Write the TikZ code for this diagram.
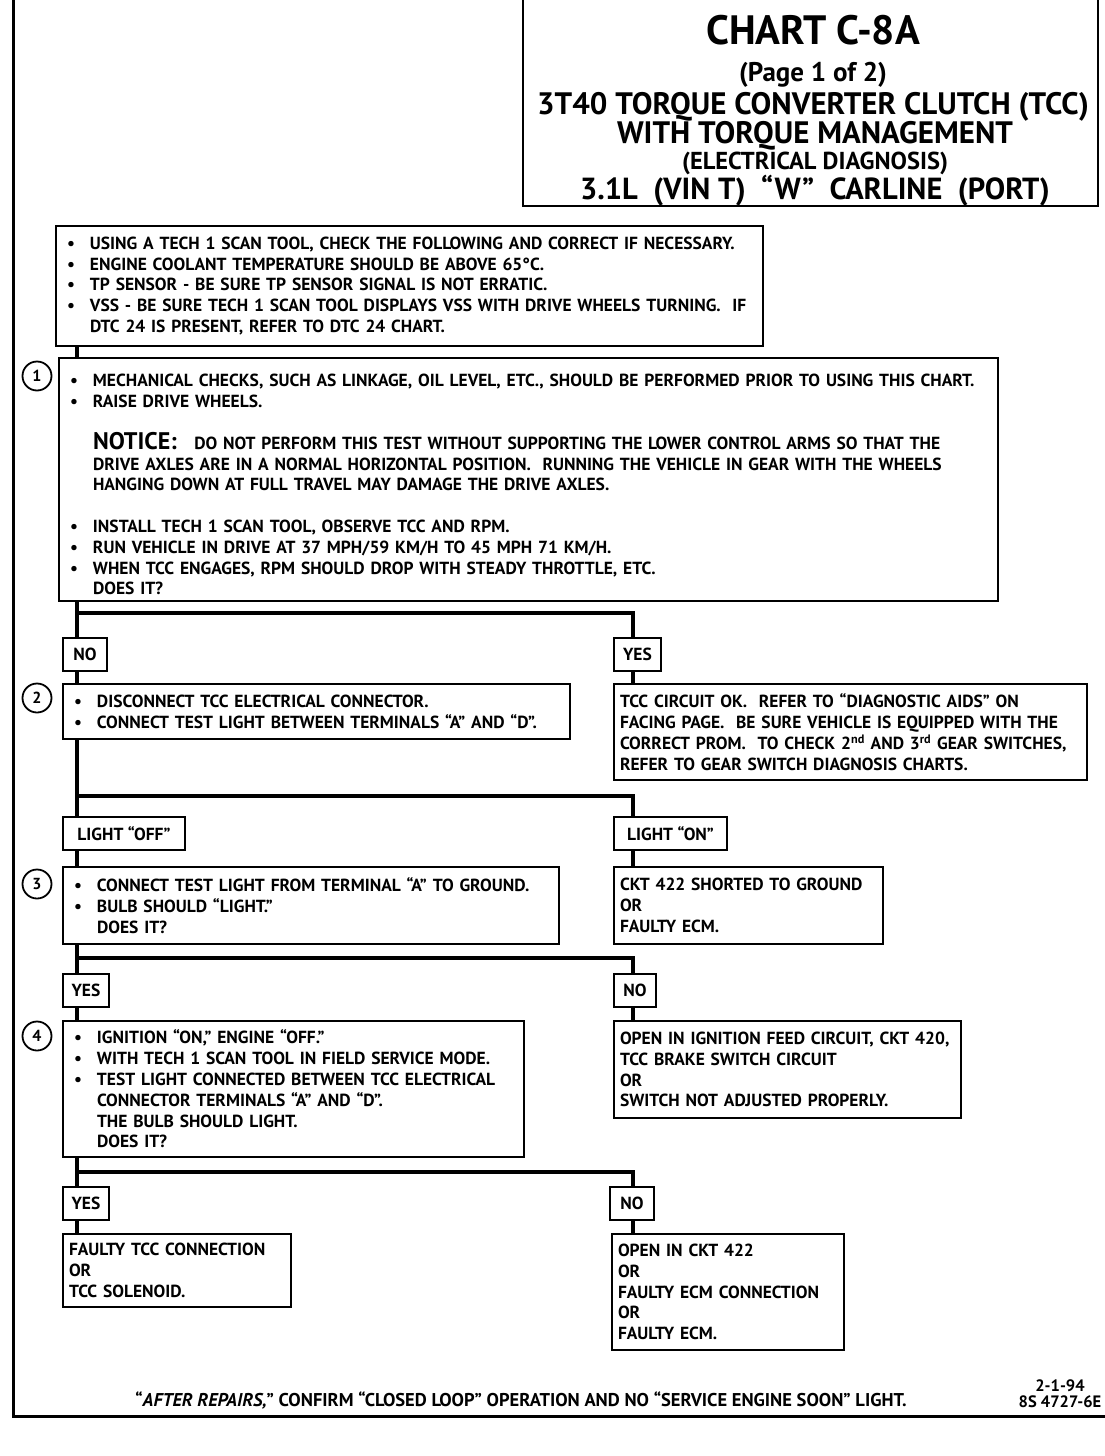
\documentclass[tikz,border=0pt]{standalone}
\usepackage{fontspec}
\setmainfont{PT Sans}
\usetikzlibrary{positioning}

\newcommand{\bul}{\makebox[23pt][l]{\textbullet}}
\newcommand{\ind}{\hspace*{23pt}}

\begin{document}
\begin{tikzpicture}[x=1pt, y=-1pt,
    txt/.style={font=\fontsize{17.5}{20.8}\selectfont\bfseries},
    head/.style={anchor=base, inner sep=0pt, font=\fontsize{#1}{#1}\selectfont\bfseries},
    qbox/.style={draw, line width=2pt, anchor=north west, align=left, inner xsep=11pt, inner ysep=0pt, txt},
    rbox/.style={draw, line width=2pt, anchor=north west, align=left, inner xsep=6pt, inner ysep=0pt, txt},
    tag/.style={draw, line width=2pt, anchor=north west, minimum height=33pt, inner sep=0pt, txt},
    num/.style={circle, draw, line width=1.8pt, minimum size=29pt, inner sep=0pt, font=\fontsize{16}{16}\selectfont\bfseries},
    flow/.style={line width=4pt}]
  \useasboundingbox (0,0) rectangle (1104,1456);
  % frame and title block
  \draw[line width=3pt] (13,-5) -- (13,1416) -- (1110,1416);
  \node[draw, line width=2pt, anchor=north west, minimum width=575pt, minimum height=215pt] (titlebox) at (522,-10) {};
  \node[head=41] (t1) at (813,44) {CHART C-8A};
  \node[head=27] (t2) at (813,81) {(Page 1 of 2)};
  \node[head=31] (t3) at (813,114) {3T40 TORQUE CONVERTER CLUTCH (TCC)};
  \node[head=31] (t4) at (815,143) {WITH TORQUE MANAGEMENT};
  \node[head=24.5] (t5) at (815,169) {(ELECTRICAL DIAGNOSIS)};
  \node[head=30.5] (t6) at (815,199) {3.1L\ \ (VIN T)\ \ “W”\ \ CARLINE\ \ (PORT)};

  \coordinate (trunk) at (77,0);
  \coordinate (branch) at (633,0);

  % questions
  \node[qbox, text width=685pt, minimum height=120pt] (pre) at (55,225) {%
    \bul USING A TECH 1 SCAN TOOL, CHECK THE FOLLOWING AND CORRECT IF NECESSARY.\\
    \bul ENGINE COOLANT TEMPERATURE SHOULD BE ABOVE 65°C.\\
    \bul TP SENSOR - BE SURE TP SENSOR SIGNAL IS NOT ERRATIC.\\
    \bul VSS - BE SURE TECH 1 SCAN TOOL DISPLAYS VSS WITH DRIVE WHEELS TURNING.\ \ IF\\
    \ind DTC 24 IS PRESENT, REFER TO DTC 24 CHART.};
  \node[qbox, text width=917pt, minimum height=243pt] (q1) at (58,357) {%
    \rule{0pt}{23pt}\bul MECHANICAL CHECKS, SUCH AS LINKAGE, OIL LEVEL, ETC., SHOULD BE PERFORMED PRIOR TO USING THIS CHART.\\
    \bul RAISE DRIVE WHEELS.\\[21pt]
    \ind{\fontsize{24}{20}\selectfont NOTICE:}\ \ \ DO NOT PERFORM THIS TEST WITHOUT SUPPORTING THE LOWER CONTROL ARMS SO THAT THE\\
    \ind DRIVE AXLES ARE IN A NORMAL HORIZONTAL POSITION.\ \ RUNNING THE VEHICLE IN GEAR WITH THE WHEELS\\
    \ind HANGING DOWN AT FULL TRAVEL MAY DAMAGE THE DRIVE AXLES.\\[20.8pt]
    \bul INSTALL TECH 1 SCAN TOOL, OBSERVE TCC AND RPM.\\
    \bul RUN VEHICLE IN DRIVE AT 37 MPH/59 KM/H TO 45 MPH 71 KM/H.\\
    \bul WHEN TCC ENGAGES, RPM SHOULD DROP WITH STEADY THROTTLE, ETC.\\
    \ind DOES IT?};
  \node[num] (c1) at (37,376) {1};

  \node[tag, minimum width=44pt] (no1) at (62,637) {NO};
  \node[tag, minimum width=47pt] (yes1) at (613,637) {YES};
  \node[qbox, text width=485pt, minimum height=55pt] (q2) at (62,683) {%
    \bul DISCONNECT TCC ELECTRICAL CONNECTOR.\\
    \bul CONNECT TEST LIGHT BETWEEN TERMINALS “A” AND “D”.};
  \node[num] (c2) at (37,698) {2};
  \node[rbox, text width=461pt, minimum height=96pt] (r1) at (613,683) {%
    TCC CIRCUIT OK.\ \ REFER TO “DIAGNOSTIC AIDS” ON\\
    FACING PAGE.\ \ BE SURE VEHICLE IS EQUIPPED WITH THE\\
    CORRECT PROM.\ \ TO CHECK 2\textsuperscript{nd} AND 3\textsuperscript{rd} GEAR SWITCHES,\\
    REFER TO GEAR SWITCH DIAGNOSIS CHARTS.};

  \node[tag, minimum width=122pt] (off) at (62,816) {LIGHT “OFF”};
  \node[tag, minimum width=113pt] (on) at (613,816) {LIGHT “ON”};
  \node[qbox, text width=474pt, minimum height=77pt] (q3) at (62,866) {%
    \bul CONNECT TEST LIGHT FROM TERMINAL “A” TO GROUND.\\
    \bul BULB SHOULD “LIGHT.”\\
    \ind DOES IT?};
  \node[num] (c3) at (37,884) {3};
  \node[rbox, text width=257pt, minimum height=77pt] (r2) at (613,866) {%
    CKT 422 SHORTED TO GROUND\\
    OR\\
    FAULTY ECM.};

  \node[tag, minimum width=46pt] (yes2) at (62,973) {YES};
  \node[tag, minimum width=42pt] (no2) at (613,973) {NO};
  \node[qbox, text width=439pt, minimum height=136pt] (q4) at (62,1020) {%
    \bul IGNITION “ON,” ENGINE “OFF.”\\
    \bul WITH TECH 1 SCAN TOOL IN FIELD SERVICE MODE.\\
    \bul TEST LIGHT CONNECTED BETWEEN TCC ELECTRICAL\\
    \ind CONNECTOR TERMINALS “A” AND “D”.\\
    \ind THE BULB SHOULD LIGHT.\\
    \ind DOES IT?};
  \node[num] (c4) at (37,1036) {4};
  \node[rbox, text width=335pt, minimum height=97pt] (r3) at (613,1020) {%
    OPEN IN IGNITION FEED CIRCUIT, CKT 420,\\
    TCC BRAKE SWITCH CIRCUIT\\
    OR\\
    SWITCH NOT ADJUSTED PROPERLY.};

  \node[tag, minimum width=46pt] (yes3) at (62,1186) {YES};
  \node[tag, minimum width=44pt] (no3) at (609,1186) {NO};
  \node[rbox, text width=216pt, minimum height=73pt] (r4) at (62,1233) {%
    FAULTY TCC CONNECTION\\
    OR\\
    TCC SOLENOID.};
  \node[rbox, text width=220pt, minimum height=116pt] (r5) at (611,1233) {%
    OPEN IN CKT 422\\
    OR\\
    FAULTY ECM CONNECTION\\
    OR\\
    FAULTY ECM.};

  % connectors
  \coordinate (s1) at (77,613);
  \coordinate (s2) at (77,796);
  \coordinate (s3) at (77,958);
  \coordinate (s4) at (77,1172);
  \draw[flow] (pre.south -| trunk) -- (q1.north -| trunk);
  \draw[flow] (q1.south -| trunk) -- (no1.north -| trunk);
  \draw[flow] (s1) -| (yes1.north -| branch);
  \draw[flow] (no1.south -| trunk) -- (q2.north -| trunk);
  \draw[flow] (yes1.south -| branch) -- (r1.north -| branch);
  \draw[flow] (q2.south -| trunk) -- (off.north -| trunk);
  \draw[flow] (s2) -| (on.north -| branch);
  \draw[flow] (off.south -| trunk) -- (q3.north -| trunk);
  \draw[flow] (on.south -| branch) -- (r2.north -| branch);
  \draw[flow] (q3.south -| trunk) -- (yes2.north -| trunk);
  \draw[flow] (s3) -| (no2.north -| branch);
  \draw[flow] (yes2.south -| trunk) -- (q4.north -| trunk);
  \draw[flow] (no2.south -| branch) -- (r3.north -| branch);
  \draw[flow] (q4.south -| trunk) -- (yes3.north -| trunk);
  \draw[flow] (s4) -| (no3.north -| branch);
  \draw[flow] (yes3.south -| trunk) -- (r4.north -| trunk);
  \draw[flow] (no3.south -| branch) -- (r5.north -| branch);

  % footer
  \node[font=\fontsize{18.5}{20}\selectfont\bfseries, anchor=base] (foot) at (521,1406) {“\textit{AFTER REPAIRS,}” CONFIRM “CLOSED LOOP” OPERATION AND NO “SERVICE ENGINE SOON” LIGHT.};
  \node[font=\fontsize{16.5}{16}\selectfont\bfseries, align=center, anchor=north] (stamp) at (1060,1376) {2-1-94\\8S 4727-6E};
\end{tikzpicture}
\end{document}
